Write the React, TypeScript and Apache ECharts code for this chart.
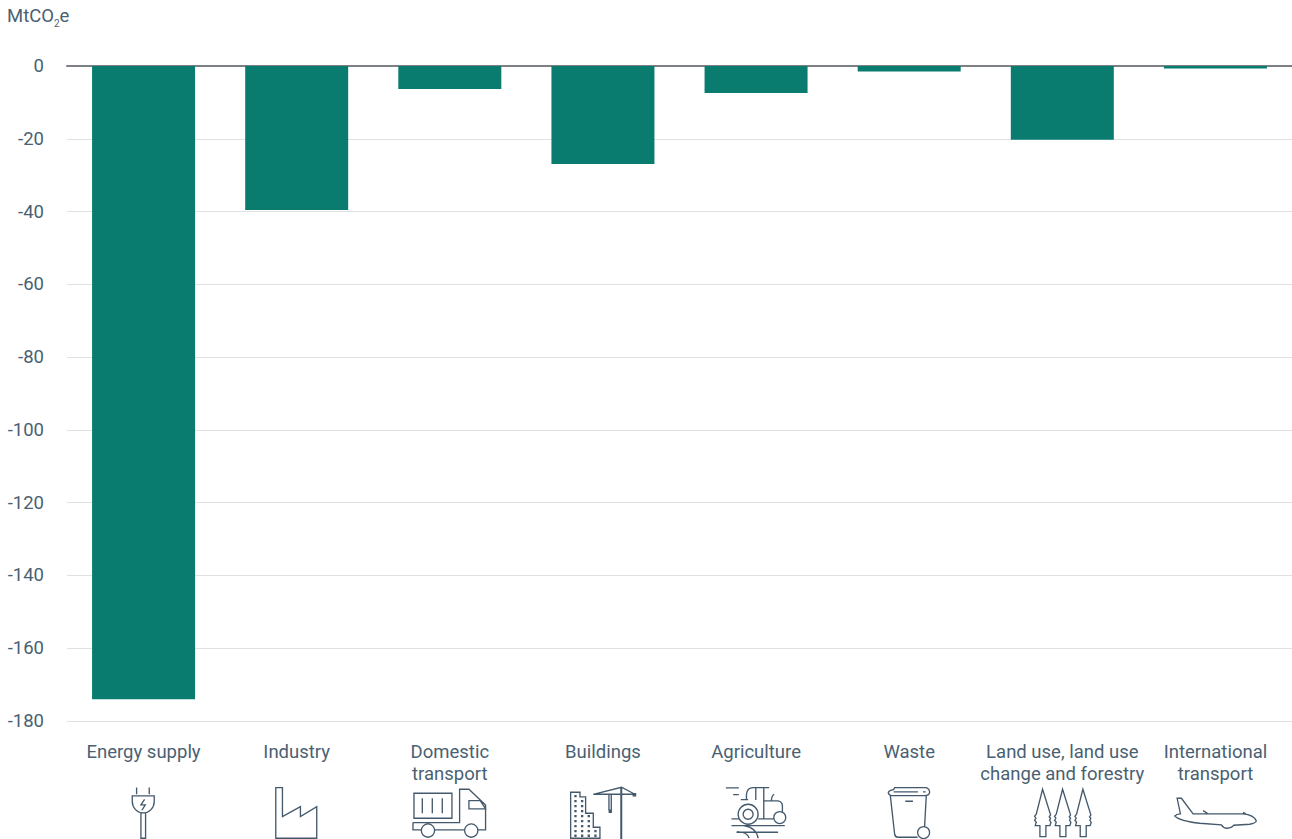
import React, { useEffect, useRef } from "react";
import * as echarts from "echarts";

const categories = [
  "Energy supply",
  "Industry",
  "Domestic\ntransport",
  "Buildings",
  "Agriculture",
  "Waste",
  "Land use, land use\nchange and forestry",
  "International\ntransport",
];
const values = [-174, -39.6, -6.3, -26.9, -7.4, -1.5, -20.3, -0.7];
const INK = "#4a5f72";
const LINE_INK = "#44596c";
const FONT = "Roboto";

// Icon outlines, in coordinates of a 3x drawing.
const treeAt = (c: number) =>
  `M${c},163 L${c + 24},240 L${c + 20},246 L${c + 24},250 L${c + 21},256 L${c + 25},262 L${c + 22},272 L${c + 10},272 V305 H${c - 8} V272 L${c - 22},272 L${c - 19},262 L${c - 24},256 L${c - 20},250 L${c - 24},244 L${c - 19},238 Z`;

const windows = () => {
  const cols: [number, number[]][] = [
    [106, [183, 198, 213, 228, 243, 258, 273, 288, 302]],
    [126, [198, 213, 228, 243, 258, 273, 288, 302]],
    [146, [243, 258, 273, 288, 302]],
    [166, [288, 302]],
  ];
  return cols
    .flatMap(([x, ys]) => ys.map((y) => `M${x - 3},${y - 3} h7 v7 h-7 Z`))
    .join(" ");
};

const icons: { name: string; ox: number; oy: number; d: string; fill?: string }[] = [
  {
    name: "plug",
    ox: 60,
    oy: 735,
    d: "M230,158 V178 M268,158 V178 M217,183 H283 V200 A33,34 0 0 1 217,200 Z M243,235 V310 H257 V235 M254,193 L243,210 H256 L246,226",
  },
  {
    name: "factory",
    ox: 60,
    oy: 735,
    d: "M648,310 V158 H668 V245 L722,215 V245 L771,215 V310 Z",
  },
  {
    name: "truck",
    ox: 60,
    oy: 735,
    d: "M1063,175 H1177 V250 H1063 Z M1088,190 V235 M1118,190 V235 M1148,190 V235 M1060,263 H1200 V163 H1228 L1278,210 V285 H1255 M1228,197 H1262 L1278,222 H1228 Z M1060,263 V285 H1085 M1125,285 H1213 M1125,287 A20,20 0 1 1 1085,287 A20,20 0 1 1 1125,287 M1255,287 A20,20 0 1 1 1215,287 A20,20 0 1 1 1255,287",
  },
  {
    name: "buildingShell",
    ox: 540,
    oy: 735,
    d: "M92,310 V172 H120 V186 H137 V235 H160 V277 H180 V310 Z M160,178 L245,157 L285,178 M160,178 H285 M245,157 V312 M243,157 V312 M207,178 V226 M214,178 V226",
  },
  {
    name: "buildingWindows",
    ox: 540,
    oy: 735,
    fill: LINE_INK,
    d: windows() + " M278,174 h11 v11 h-11 Z M206,224 h10 v10 h-10 Z",
  },
  {
    name: "tractor",
    ox: 540,
    oy: 735,
    d: "M558,159 H597 M580,179 H597 M603,194 H625 M620,195 V178 Q622,158 640,158 H688 M648,158 V195 M672,158 V250 M672,198 H715 Q728,200 728,215 V232 M655,252 H702 M695,198 Q695,183 703,178 M655,238 A30,30 0 1 1 595,238 A30,30 0 1 1 655,238 M640,238 A15,15 0 1 1 610,238 A15,15 0 1 1 640,238 M738,248 A18,18 0 1 1 702,248 A18,18 0 1 1 738,248 M575,252 H597 M575,272 H735 M590,292 H715 M612,272 Q650,278 655,310 M592,290 Q625,292 628,310",
  },
  {
    name: "bin",
    ox: 540,
    oy: 735,
    d: "M1065,158 H1160 Q1170,162 1170,172 Q1168,182 1155,182 H1055 Q1046,180 1046,172 Q1050,165 1062,164 Z M1062,171 H1135 M1150,171 H1158 M1052,182 L1065,298 Q1067,307 1075,307 H1134 M1160,182 L1155,275 M1097,199 H1120 M1170,293 A18,18 0 1 1 1134,293 A18,18 0 1 1 1170,293",
  },
  {
    name: "trees",
    ox: 960,
    oy: 735,
    d: `${treeAt(248)} ${treeAt(308)} ${treeAt(369)}`,
  },
  {
    name: "plane",
    ox: 960,
    oy: 735,
    d: "M652,190 H665 L700,237 H850 Q882,240 890,258 Q888,265 870,268 L822,271 Q815,281 800,280 Q790,279 785,270 L720,265 Q660,258 645,243 Q650,238 662,237 Z M730,227 L745,237 M850,232 L858,237",
  },
];

let registered = false;
const registerIcons = () => {
  if (registered) return;
  icons.forEach((ic) => {
    echarts.graphic.registerShape(ic.name, echarts.graphic.extendPath(ic.d as any, {}) as any);
  });
  registered = true;
};

export default function App() {
  const ref = useRef<HTMLDivElement>(null);
  useEffect(() => {
    document.body.style.margin = "0";
    registerIcons();
    const chart = echarts.init(ref.current!, undefined, { renderer: "svg" });
    chart.setOption({
      animation: false,
      textStyle: { fontFamily: FONT },
      title: {
        text: "{a|MtCO}{s|2}{a|e}",
        left: 7,
        top: 4,
        padding: 0,
        textStyle: {
          fontWeight: "normal",
          rich: {
            a: { fontFamily: FONT, fontSize: 18.5, fontWeight: "normal", color: INK, lineHeight: 24 },
            s: { fontFamily: FONT, fontSize: 10, fontWeight: "normal", color: INK, padding: [14, 0, 0, 0], lineHeight: 24 },
          },
        },
      },
      grid: { left: 67, right: -1, top: 66, height: 655 },
      xAxis: [
        {
          type: "category",
          data: categories,
          position: "bottom",
          axisLine: { show: false },
          axisTick: { show: false },
          axisLabel: {
            interval: 0,
            color: INK,
            fontFamily: FONT,
            fontSize: 18.5,
            lineHeight: 22,
            margin: 20,
            verticalAlign: "top",
          },
        },
        {
          type: "category",
          data: categories,
          position: "top",
          axisLine: { show: true, onZero: false, lineStyle: { color: "#7d8185", width: 2 } },
          axisTick: { show: false },
          axisLabel: { show: false },
        },
      ],
      yAxis: {
        type: "value",
        min: -180,
        max: 0,
        interval: 20,
        axisLine: { show: false },
        axisTick: { show: false },
        axisLabel: { color: INK, fontFamily: FONT, fontSize: 18.5, margin: 23 },
        splitLine: { show: true, lineStyle: { color: "#dfe2e3", width: 1 } },
      },
      series: [
        {
          type: "bar",
          data: values,
          xAxisIndex: 0,
          barWidth: 103,
          itemStyle: { color: "#0a7c6f" },
          silent: true,
        },
      ],
      graphic: icons.map((ic) => ({
        type: ic.name,
        x: ic.ox,
        y: ic.oy,
        scaleX: 1 / 3,
        scaleY: 1 / 3,
        silent: true,
        style: ic.fill
          ? { fill: ic.fill, stroke: "none" }
          : { fill: "none", stroke: LINE_INK, lineWidth: 4 },
      })),
    });
    return () => chart.dispose();
  }, []);
  return <div ref={ref} style={{ width: 1292, height: 839 }} />;
}
